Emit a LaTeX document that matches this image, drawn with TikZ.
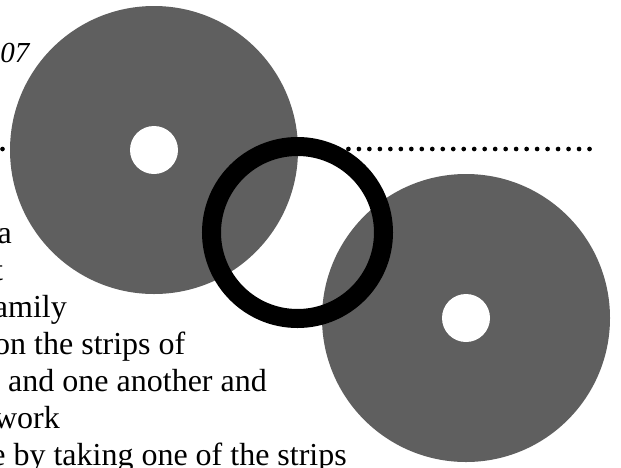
\documentclass[tikz,border=0pt]{standalone}
\usepackage{fontspec}
\setmainfont{Liberation Serif}
\definecolor{discgray}{RGB}{95,95,95}

\begin{document}
\begin{tikzpicture}[x=1pt,y=-1pt,
    every node/.style={inner sep=0pt,anchor=base east},
    txt/.style={font=\fontsize{32}{36}\selectfont},
    disc/.style={fill=discgray},
    hole/.style={fill=white},
    ring/.style={draw=black,line width=19pt}]
    \useasboundingbox (0,0) rectangle (621,467);
    \clip (0,0) rectangle (621,467);
    % dotted rule behind everything
    \coordinate (ruleL) at (2.5,149);
    \coordinate (ruleR) at (600,149);
    \draw[line width=4.7pt,line cap=round,dash pattern=on 0pt off 10.4825pt] (ruleL) -- (ruleR);
    % the two discs
    \coordinate (discA) at (154,150);
    \coordinate (discB) at (466,318);
    \fill[disc] (discA) circle[radius=144pt];
    \fill[hole] (discA) circle[radius=24pt];
    \fill[disc] (discB) circle[radius=144pt];
    \fill[hole] (discB) circle[radius=24pt];
    % black ring on top
    \coordinate (ringC) at (297.5,232.5);
    \draw[ring] (ringC) circle[radius=86pt];
    % text cut at the left edge
    \node[font=\fontsize{29}{33}\selectfont\itshape] (year) at (29.5,62) {007};
    \node[txt] (lnA) at (12,243) {a};
    \node[txt] (lnB) at (3.3,280) {t};
    \node[txt] (lnC) at (67,317) {amily};
    \node[txt] (lnD) at (185.5,354) {on the strips of};
    \node[txt] (lnE) at (267,391) {and one another and};
    \node[txt] (lnF) at (60,428) {work};
    \node[txt] (lnG) at (347,465) {e by taking one of the strips};
\end{tikzpicture}
\end{document}
